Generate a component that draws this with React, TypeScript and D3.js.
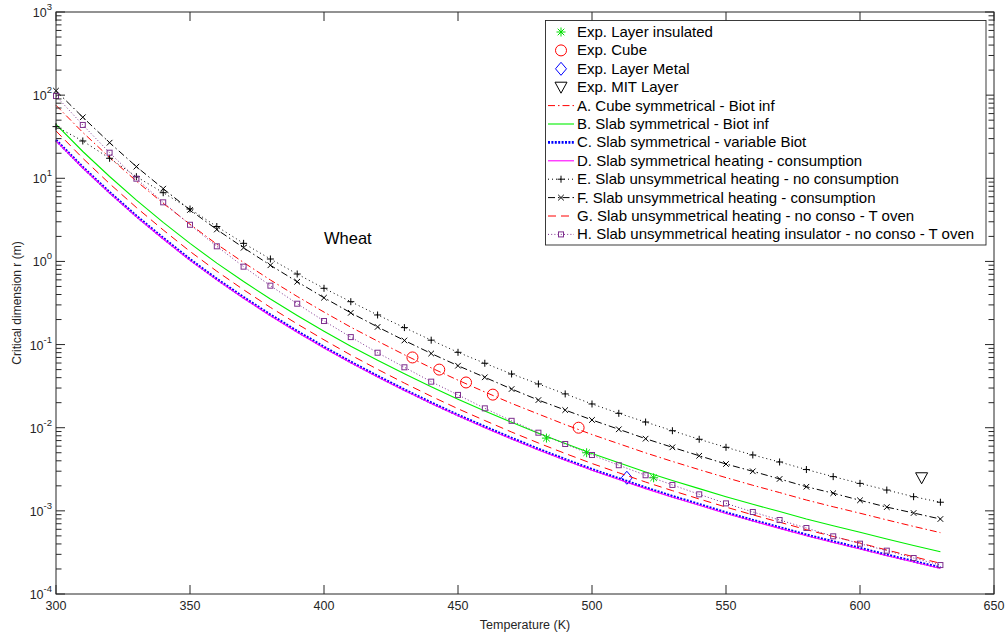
import React from 'react';
import * as d3 from 'd3';

// ---------- data ----------
const temperatures = [300, 310, 320, 330, 340, 350, 360, 370, 380, 390, 400, 410, 420, 430, 440, 450, 460, 470, 480, 490, 500, 510, 520, 530, 540, 550, 560, 570, 580, 590, 600, 610, 620, 630];

// A. Cube symmetrical - Biot inf
const seriesA = [75.5, 35.6, 17.8, 9.25, 5.0, 2.8, 1.61, 0.971, 0.598, 0.379, 0.246, 0.162, 0.11, 0.0754, 0.0525, 0.0373, 0.0269, 0.0196, 0.0146, 0.0109, 0.00828, 0.00642, 0.00498, 0.00393, 0.00313, 0.00251, 0.00203, 0.00166, 0.00135, 0.00112, 0.000937, 0.000778, 0.00065, 0.000547];
// B. Slab symmetrical - Biot inf
const seriesB = [44.6, 21.0, 10.5, 5.46, 2.95, 1.65, 0.953, 0.573, 0.353, 0.224, 0.145, 0.0957, 0.0647, 0.0445, 0.031, 0.022, 0.0159, 0.0116, 0.00859, 0.00644, 0.00489, 0.00379, 0.00294, 0.00232, 0.00185, 0.00148, 0.0012, 0.00098, 0.000798, 0.000662, 0.000553, 0.000459, 0.000384, 0.000323];
// C. Slab symmetrical - variable Biot
const seriesC = [28.8, 13.6, 6.78, 3.52, 1.91, 1.06, 0.615, 0.37, 0.228, 0.145, 0.0935, 0.0618, 0.0418, 0.0287, 0.02, 0.0142, 0.0103, 0.0075, 0.00555, 0.00416, 0.00316, 0.00245, 0.0019, 0.0015, 0.0012, 0.000953, 0.000773, 0.000632, 0.000515, 0.000428, 0.000357, 0.000296, 0.000248, 0.000208];
// D. Slab symmetrical heating - consumption
const seriesD = [28.1, 13.3, 6.62, 3.44, 1.86, 1.03, 0.6, 0.361, 0.222, 0.141, 0.0912, 0.0603, 0.0408, 0.028, 0.0195, 0.0139, 0.01, 0.00732, 0.00541, 0.00406, 0.00308, 0.00239, 0.00185, 0.00146, 0.00117, 0.000929, 0.000754, 0.000616, 0.000502, 0.000417, 0.000348, 0.000289, 0.000242, 0.000203];
// E. Slab unsymmetrical heating - no consumption
const seriesE = [41.8, 28.1, 17.4, 10.45, 6.71, 4.27, 2.63, 1.65, 1.07, 0.706, 0.475, 0.328, 0.227, 0.16, 0.113, 0.0807, 0.0596, 0.0443, 0.0336, 0.0255, 0.0193, 0.0149, 0.0117, 0.0092, 0.00726, 0.00581, 0.0047, 0.00387, 0.00314, 0.00258, 0.00214, 0.00178, 0.00148, 0.00127];
// F. Slab unsymmetrical heating - consumption
const seriesF = [113, 54.2, 26.8, 13.8, 7.5, 4.16, 2.42, 1.46, 0.899, 0.57, 0.366, 0.241, 0.163, 0.112, 0.0781, 0.0557, 0.0404, 0.0292, 0.0215, 0.0163, 0.0124, 0.00957, 0.00738, 0.00581, 0.0046, 0.00366, 0.00299, 0.00242, 0.00195, 0.00163, 0.00134, 0.00111, 0.000942, 0.000798];
// G. Slab unsymmetrical heating - no conso - T oven
const seriesG = [37.1, 17.4, 8.61, 4.45, 2.39, 1.32, 0.762, 0.456, 0.28, 0.177, 0.114, 0.0748, 0.0504, 0.0344, 0.0239, 0.0169, 0.0122, 0.00887, 0.00655, 0.0049, 0.00371, 0.00287, 0.00222, 0.00175, 0.00139, 0.00111, 0.000895, 0.000731, 0.000594, 0.000492, 0.00041, 0.000338, 0.000281, 0.000234];
// H. Slab unsymmetrical heating insulator - no conso - T oven
const seriesH = [97.7, 43.8, 20.3, 9.89, 5.14, 2.76, 1.52, 0.865, 0.511, 0.31, 0.192, 0.123, 0.0798, 0.0533, 0.0358, 0.0248, 0.0171, 0.0121, 0.00871, 0.00637, 0.0047, 0.00354, 0.00268, 0.00205, 0.00158, 0.00123, 0.000969, 0.000776, 0.000622, 0.000494, 0.000403, 0.000332, 0.000271, 0.000223];

// experimental points
const expInsulatedT = [483, 498, 523];
const expInsulatedR = [0.0075, 0.005, 0.0025];
const expCubeT = [433, 443, 453, 463, 495];
const expCubeR = [0.07, 0.05, 0.035, 0.025, 0.01];
const expMetalT = [513];
const expMetalR = [0.0025];
const expMitT = [623];
const expMitR = [0.0025];

const xTicks = [300, 350, 400, 450, 500, 550, 600, 650];
const yExponents = [-4, -3, -2, -1, 0, 1, 2, 3];

const legendLabels = [
  'Exp. Layer insulated',
  'Exp. Cube',
  'Exp. Layer Metal',
  'Exp. MIT Layer',
  'A. Cube symmetrical - Biot inf',
  'B. Slab symmetrical - Biot inf',
  'C. Slab symmetrical - variable Biot',
  'D. Slab symmetrical heating - consumption',
  'E. Slab unsymmetrical heating - no consumption',
  'F. Slab unsymmetrical heating - consumption',
  'G. Slab unsymmetrical heating - no conso - T oven',
  'H. Slab unsymmetrical heating insulator - no conso - T oven',
];

const FONT = '"Liberation Sans", Arial, Helvetica, sans-serif';

type Style = { color: string; width: number; dash?: string; marker?: string };
const lineStyles: Style[] = [
  { color: '#ff0000', width: 1, dash: '7,3,1.5,3' },
  { color: '#00ee00', width: 1.1 },
  { color: '#0000ff', width: 2.6, dash: '2,1.4' },
  { color: '#ff00ff', width: 1.1 },
  { color: '#000000', width: 1, dash: '1,3', marker: 'plus' },
  { color: '#000000', width: 1, dash: '7,3,1.5,3', marker: 'x' },
  { color: '#ff0000', width: 1, dash: '8,5' },
  { color: '#7e2f8e', width: 1, dash: '1,2.2', marker: 'square' },
];
const allSeries = [seriesA, seriesB, seriesC, seriesD, seriesE, seriesF, seriesG, seriesH];

function Marker({ kind, cx, cy, color }: { kind: string; cx: number; cy: number; color: string }) {
  if (kind === 'plus')
    return <path d={`M${cx - 3.5},${cy}H${cx + 3.5}M${cx},${cy - 3.5}V${cy + 3.5}`} stroke={color} strokeWidth={1} fill="none" />;
  if (kind === 'x')
    return <path d={`M${cx - 2.8},${cy - 2.8}L${cx + 2.8},${cy + 2.8}M${cx - 2.8},${cy + 2.8}L${cx + 2.8},${cy - 2.8}`} stroke={color} strokeWidth={1} fill="none" />;
  if (kind === 'square')
    return <rect x={cx - 2.5} y={cy - 2.5} width={5} height={5} stroke={color} strokeWidth={1} fill="none" />;
  if (kind === 'asterisk')
    return (
      <path
        d={`M${cx - 4.5},${cy}H${cx + 4.5}M${cx},${cy - 4.5}V${cy + 4.5}M${cx - 3.3},${cy - 3.3}L${cx + 3.3},${cy + 3.3}M${cx - 3.3},${cy + 3.3}L${cx + 3.3},${cy - 3.3}`}
        stroke={color}
        strokeWidth={1}
        fill="none"
      />
    );
  if (kind === 'circle') return <circle cx={cx} cy={cy} r={5.5} stroke={color} strokeWidth={1} fill="none" />;
  if (kind === 'diamond')
    return <path d={`M${cx},${cy - 6.5}L${cx + 5.5},${cy}L${cx},${cy + 6.5}L${cx - 5.5},${cy}Z`} stroke={color} strokeWidth={1} fill="none" />;
  if (kind === 'triangle')
    return <path d={`M${cx - 6},${cy - 5}L${cx + 6},${cy - 5}L${cx},${cy + 6}Z`} stroke={color} strokeWidth={1} fill="none" />;
  return null;
}

export default function App() {
  const W = 1007;
  const H = 639;
  const left = 56, right = 994, top = 12, bottom = 594;
  const x = d3.scaleLinear().domain([300, 650]).range([left, right]);
  const y = d3.scaleLog().domain([1e-4, 1e3]).range([bottom, top]);

  const lineGen = d3
    .line<number>()
    .x((_, i) => x(temperatures[i]))
    .y((d) => y(d));

  const majorLen = 9;
  const minorLen = 5.5;

  const minorVals: number[] = [];
  for (let e = -4; e < 3; e++) for (let k = 2; k <= 9; k++) minorVals.push(k * Math.pow(10, e));

  const expSets = [
    { kind: 'asterisk', color: '#00dd00', t: expInsulatedT, r: expInsulatedR },
    { kind: 'circle', color: '#ff0000', t: expCubeT, r: expCubeR },
    { kind: 'diamond', color: '#0000ff', t: expMetalT, r: expMetalR },
    { kind: 'triangle', color: '#000000', t: expMitT, r: expMitR },
  ];

  const legX = 545.5, legY = 20.5, legW = 440.5, legH = 224.5;
  const rowY = (i: number) => 32 + i * 18.4;

  return (
    <svg width={W} height={H} style={{ position: 'absolute', left: 0, top: 0, background: '#fff' }} fontFamily={FONT}>
      <rect x={0} y={0} width={W} height={H} fill="#fff" />

      {/* experimental markers */}
      {expSets.map((s, si) =>
        s.t.map((t, i) => <Marker key={`e${si}-${i}`} kind={s.kind} cx={x(t)} cy={y(s.r[i])} color={s.color} />)
      )}

      {/* model curves */}
      {allSeries.map((vals, si) => {
        const st = lineStyles[si];
        return (
          <g key={`s${si}`}>
            <path d={lineGen(vals) || ''} fill="none" stroke={st.color} strokeWidth={st.width} strokeDasharray={st.dash} />
            {st.marker &&
              vals.map((v, i) => <Marker key={i} kind={st.marker!} cx={x(temperatures[i])} cy={y(v)} color={st.color} />)}
          </g>
        );
      })}

      {/* axes box */}
      <rect x={left} y={top} width={right - left} height={bottom - top} fill="none" stroke="#262626" strokeWidth={1} />

      {/* x ticks */}
      {xTicks.map((t) => (
        <g key={`xt${t}`}>
          <line x1={x(t)} x2={x(t)} y1={bottom} y2={bottom - majorLen} stroke="#262626" />
          <line x1={x(t)} x2={x(t)} y1={top} y2={top + majorLen} stroke="#262626" />
          <text x={x(t)} y={610} textAnchor="middle" fontSize={12.5} fill="#262626">
            {t}
          </text>
        </g>
      ))}

      {/* y ticks */}
      {yExponents.map((e) => {
        const yy = y(Math.pow(10, e));
        return (
          <g key={`yt${e}`}>
            <line x1={left} x2={left + majorLen} y1={yy} y2={yy} stroke="#262626" />
            <line x1={right} x2={right - majorLen} y1={yy} y2={yy} stroke="#262626" />
            <text x={52} y={yy + 5} textAnchor="end" fontSize={12.5} fill="#262626">
              10
              <tspan dy={-7} fontSize={9.5}>
                {e}
              </tspan>
            </text>
          </g>
        );
      })}
      {minorVals.map((v, i) => {
        const yy = y(v);
        return (
          <g key={`ym${i}`}>
            <line x1={left} x2={left + minorLen} y1={yy} y2={yy} stroke="#262626" />
            <line x1={right} x2={right - minorLen} y1={yy} y2={yy} stroke="#262626" />
          </g>
        );
      })}

      {/* axis labels */}
      <text x={(left + right) / 2} y={629} textAnchor="middle" fontSize={12.5} fill="#262626">
        Temperature (K)
      </text>
      <text transform={`translate(21,${(top + bottom) / 2}) rotate(-90)`} textAnchor="middle" fontSize={12} fill="#262626">
        Critical dimension r (m)
      </text>

      {/* annotation */}
      <text x={324} y={244} fontSize={16.5} fill="#000">
        Wheat
      </text>

      {/* legend */}
      <rect x={legX} y={legY} width={legW} height={legH} fill="#fff" stroke="#262626" strokeWidth={0.9} />
      {legendLabels.map((lab, i) => {
        const yy = rowY(i);
        let sample: React.ReactNode = null;
        if (i < 4) {
          const s = expSets[i];
          sample = <Marker kind={s.kind} cx={561} cy={yy} color={s.color} />;
        } else {
          const st = lineStyles[i - 4];
          sample = (
            <g>
              <line x1={548} x2={574} y1={yy} y2={yy} stroke={st.color} strokeWidth={st.width} strokeDasharray={st.dash} />
              {st.marker && <Marker kind={st.marker} cx={561} cy={yy} color={st.color} />}
            </g>
          );
        }
        return (
          <g key={`lg${i}`}>
            {sample}
            <text x={577} y={yy + 5} fontSize={15} fill="#000">
              {lab}
            </text>
          </g>
        );
      })}
    </svg>
  );
}
